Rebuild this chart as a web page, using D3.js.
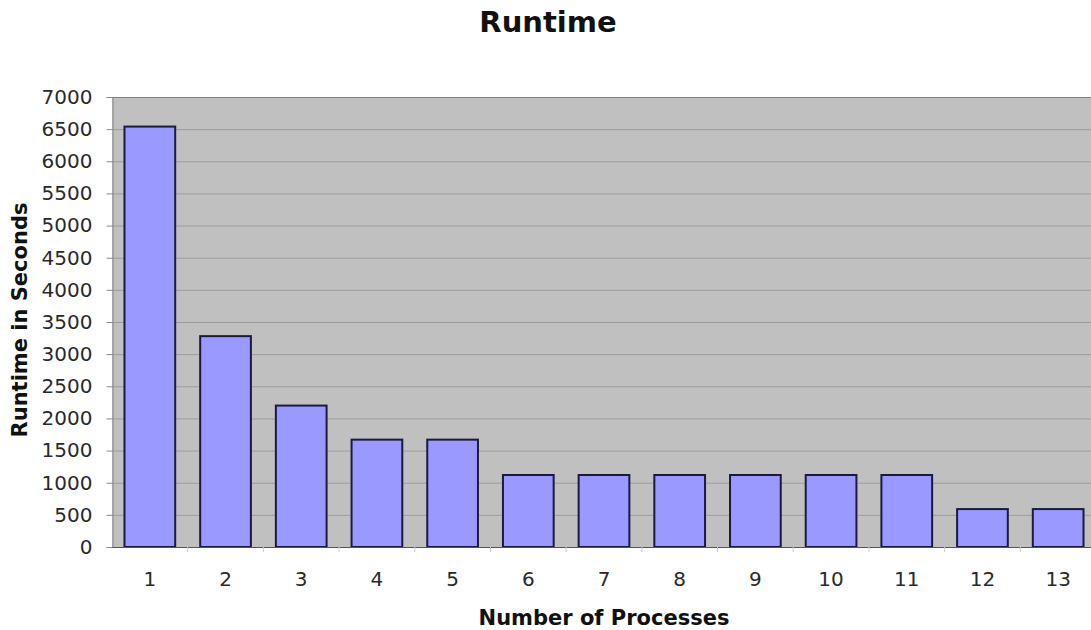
<!DOCTYPE html>
<html><head><meta charset="utf-8">
<script src="https://cdn.jsdelivr.net/npm/d3@7"></script>
<style>body{margin:0;background:#fff;}svg{display:block;font-family:"DejaVu Sans",Verdana,sans-serif;}</style>
</head><body>
<svg id="c" width="1091" height="630"></svg>
<script>
const categories = ["1","2","3","4","5","6","7","8","9","10","11","12","13"];
const runtimes = [6540, 3280, 2200, 1670, 1670, 1120, 1120, 1120, 1120, 1120, 1120, 590, 590];
const yTicks = [0,500,1000,1500,2000,2500,3000,3500,4000,4500,5000,5500,6000,6500,7000];
const title = "Runtime";
const xTitle = "Number of Processes";
const yTitle = "Runtime in Seconds";

const svg = d3.select("#c");
const m = {left:112, top:97, right:1096, bottom:547};
const x = d3.scaleBand().domain(categories).range([m.left, m.right]).paddingInner(0.33).paddingOuter(0.165);
const y = d3.scaleLinear().domain([0,7000]).range([m.bottom, m.top]);

svg.append("rect").attr("x", m.left).attr("y", m.top).attr("width", m.right-m.left).attr("height", m.bottom-m.top).attr("fill", "#c0c0c0");

// gridlines
svg.append("g").selectAll("line").data(yTicks.filter(d=>d>0)).join("line")
  .attr("x1", m.left).attr("x2", m.right)
  .attr("y1", d=>y(d)+0.5).attr("y2", d=>y(d)+0.5)
  .attr("stroke", d=> d===7000 ? "#808080" : "#9c9c9c").attr("stroke-width", 1);

// y axis
const ya = svg.append("g").attr("transform", `translate(${m.left+0.5},0)`)
  .call(d3.axisLeft(y).tickValues(yTicks).tickFormat(d3.format("d")).tickSize(6).tickPadding(14));
ya.select(".domain").attr("stroke", "#8a8a8a");
ya.selectAll(".tick line").attr("stroke", "#8a8a8a");
ya.selectAll("text").attr("font-size", 20).attr("fill", "#2a2a2a").attr("font-family", "DejaVu Sans, Verdana, sans-serif");

// bars
svg.append("g").selectAll("rect").data(runtimes).join("rect")
  .attr("x", (d,i)=>x(categories[i]))
  .attr("y", d=>y(d))
  .attr("width", x.bandwidth())
  .attr("height", d=>y(0)-y(d))
  .attr("fill", "#9999ff").attr("stroke", "#1a1a40").attr("stroke-width", 2);

// x axis
const xa = svg.append("g").attr("transform", `translate(0,${m.bottom})`)
  .call(d3.axisBottom(x).tickSize(0).tickPadding(25));
xa.select(".domain").attr("stroke", "#555");
xa.selectAll("text").attr("font-size", 20).attr("fill", "#2a2a2a").attr("font-family", "DejaVu Sans, Verdana, sans-serif");
// category boundary ticks
svg.append("g").selectAll("line").data(categories.slice(1)).join("line")
  .attr("x1", d=>x(d)-x.step()*x.paddingInner()/2).attr("x2", d=>x(d)-x.step()*x.paddingInner()/2)
  .attr("y1", m.bottom).attr("y2", m.bottom+5).attr("stroke", "#ccc");

// titles
svg.append("text").attr("x", 548).attr("y", 32).attr("text-anchor", "middle")
  .attr("font-size", 29).attr("font-weight", "bold").attr("fill", "#111").text(title);
svg.append("text").attr("x", 604).attr("y", 625).attr("text-anchor", "middle")
  .attr("font-size", 21).attr("font-weight", "bold").attr("fill", "#111").text(xTitle);
svg.append("text").attr("transform", "translate(27,320) rotate(-90)").attr("text-anchor", "middle")
  .attr("font-size", 21).attr("font-weight", "bold").attr("fill", "#111").text(yTitle);
</script>
</body></html>
